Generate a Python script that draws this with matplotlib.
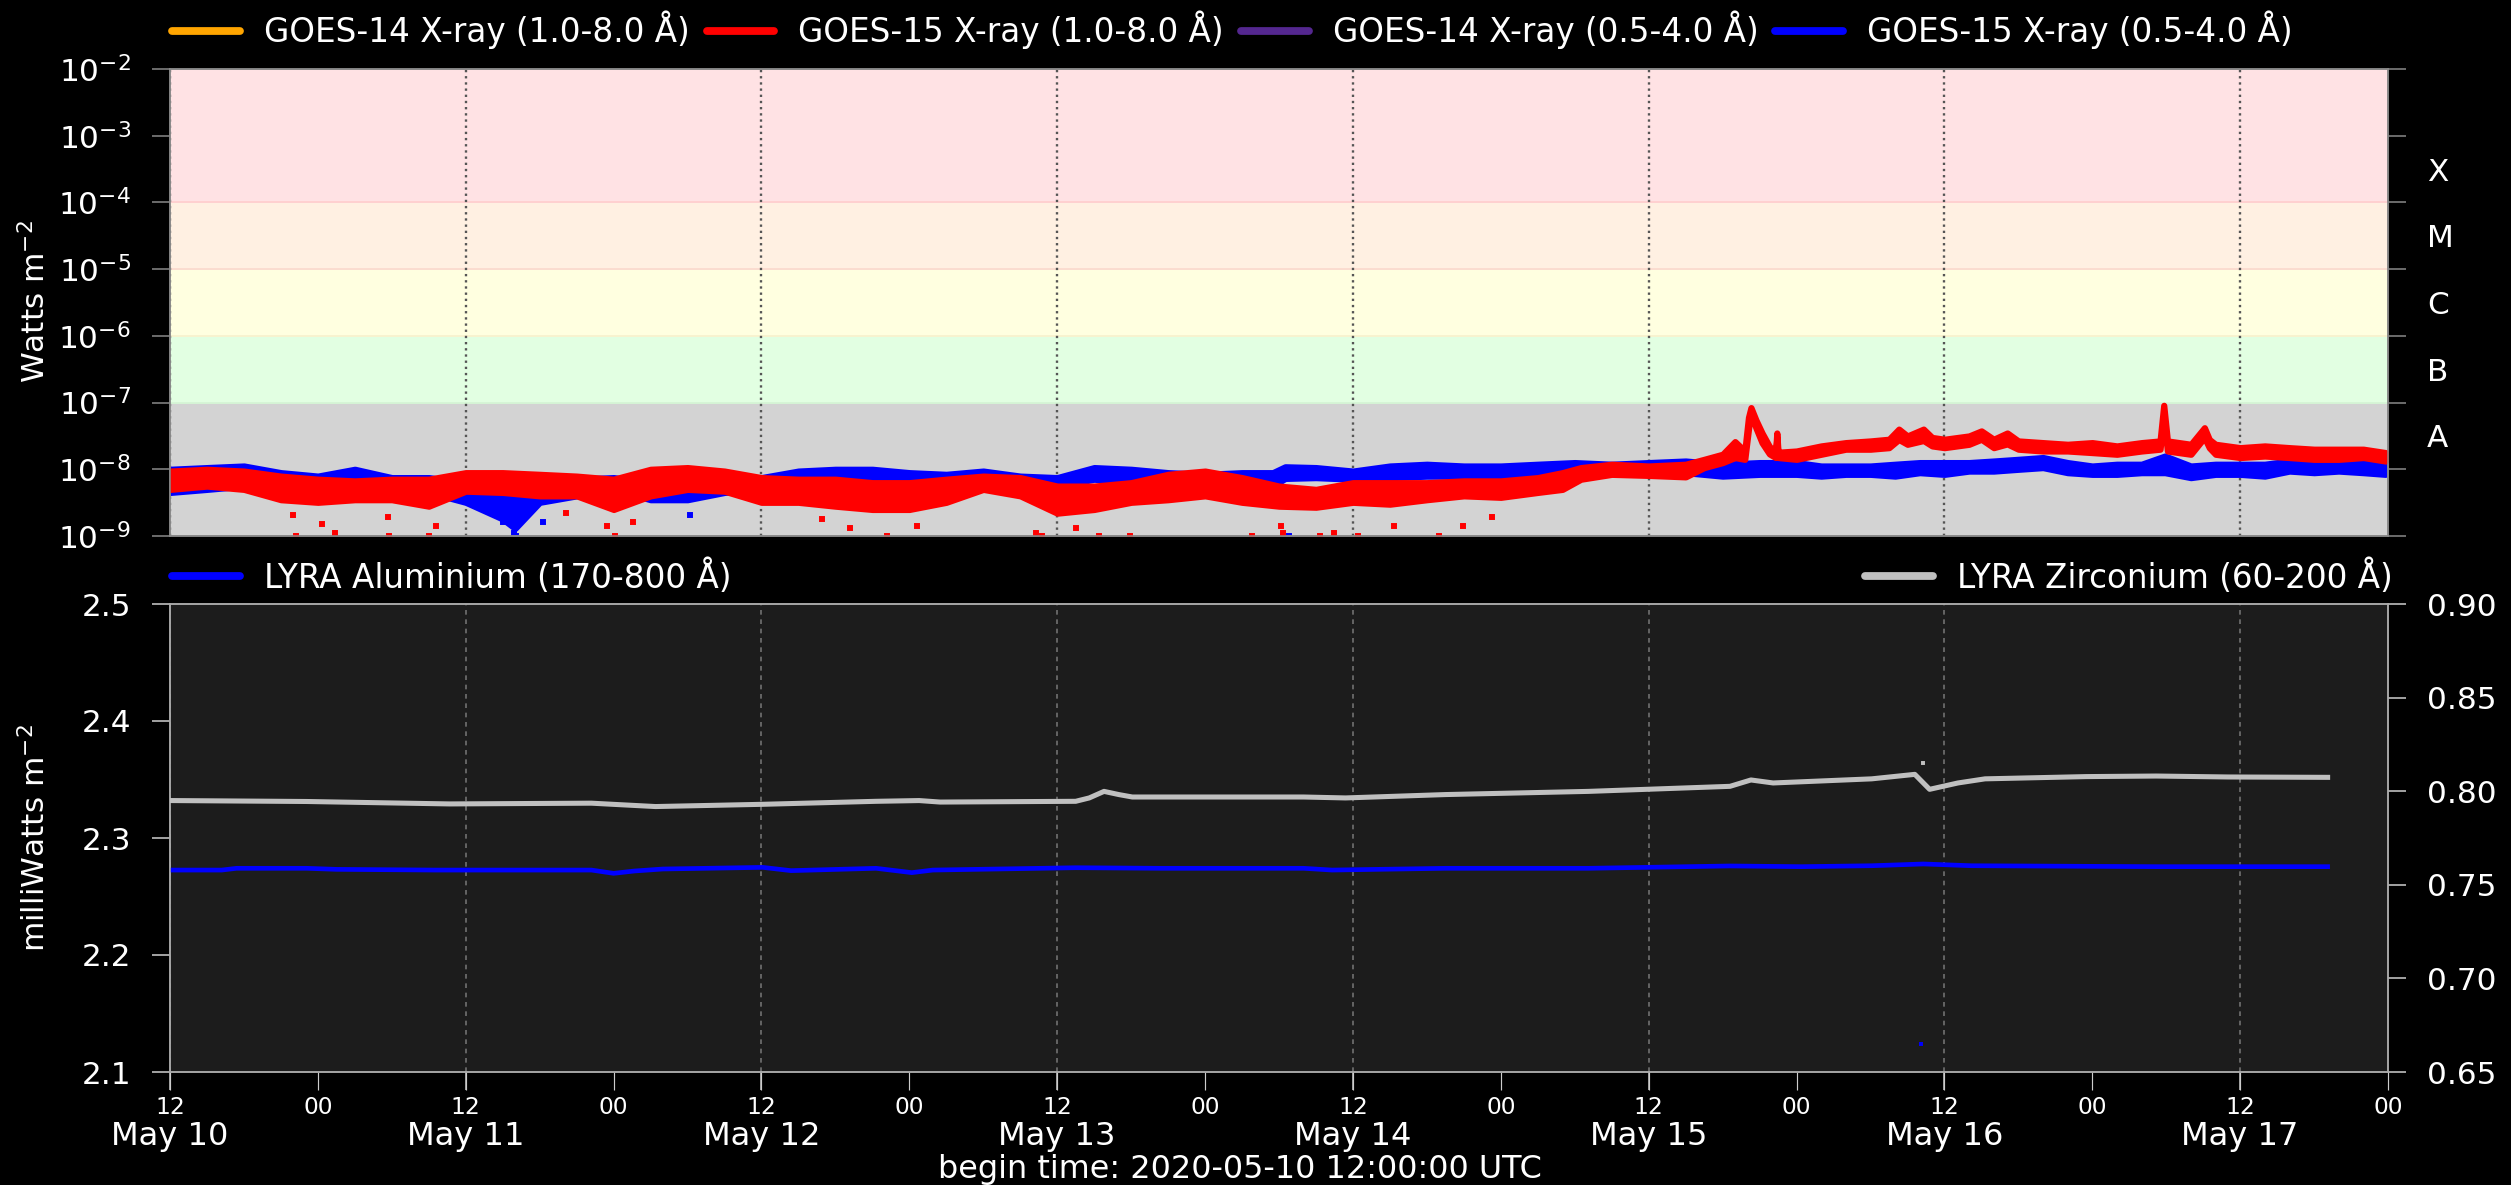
import matplotlib
matplotlib.use("Agg")
import matplotlib.pyplot as plt
import matplotlib.dates as mdates
from matplotlib.lines import Line2D
from matplotlib.ticker import FixedLocator, NullLocator, FixedFormatter, NullFormatter, FormatStrFormatter
import numpy as np
from datetime import datetime, timedelta

plt.rcParams['font.family'] = ['DejaVu Sans']
plt.rcParams['font.size'] = 16

# ── time base: hours after 2020-05-10 12:00 UTC ──
START = datetime(2020, 5, 10, 12)
END = START + timedelta(hours=180)

# ── GOES-15 1.0-8.0 Å (band envelope, units of 1e-9 W m^-2) ──
RED_HOURS = [0, 3, 6, 9, 12, 15, 18, 21, 24, 27, 30, 33, 36, 39, 42, 45, 48, 51, 54, 57,
             60, 63, 66, 69, 72, 75, 78, 81, 84, 87, 90, 93, 96, 99, 102, 105, 108, 111,
             113, 114.5, 117, 120, 123, 124.5, 126, 127.0, 127.8, 128.1, 128.3, 128.7,
             129.2, 129.8, 130.3, 130.4, 130.5, 132, 134, 136, 138, 139.5, 140.3, 141,
             142.3, 143, 144, 146, 147.0, 148, 149.1, 150, 152, 154, 156, 158, 160, 161.5,
             161.8, 162.1, 164, 165.1, 165.5, 166, 168, 170, 172, 174, 176, 178, 179.8]
RED_HIGH = [9.4, 10.0, 9.4, 7.9, 7.1, 6.7, 7.1, 7.1, 8.9, 8.9, 8.4, 7.9, 7.1, 10.0, 10.6,
            9.4, 7.5, 7.1, 7.1, 6.3, 6.3, 7.1, 7.9, 7.5, 5.6, 5.6, 6.3, 8.4, 9.4, 7.5, 5.6,
            5.0, 6.3, 6.3, 6.3, 6.7, 6.7, 7.5, 8.9, 10.6, 11.9, 11.2, 11.9, 14.1, 16.8, 26,
            18.8, 60, 84, 55, 35, 22, 18, 35, 18, 18.8, 22.4, 25.1, 26.6, 28.2, 40, 31.6,
            40, 30, 28.2, 31.6, 37.6, 28.2, 35, 26.6, 25.1, 23.7, 25.1, 22.4, 25.1, 26.6,
            91, 26.6, 23.7, 42, 28, 23.7, 21.1, 22.4, 21.1, 20.0, 20.0, 20.0, 17.8]
RED_LOW = [5.0, 5.6, 5.0, 3.5, 3.2, 3.5, 3.5, 2.8, 4.7, 4.5, 4.0, 4.0, 2.5, 4.0, 5.0,
           4.7, 3.2, 3.2, 2.8, 2.5, 2.5, 3.2, 5.0, 4.0, 2.2, 2.5, 3.2, 3.5, 4.0, 3.2, 2.8,
           2.7, 3.2, 3.0, 3.5, 4.0, 3.8, 4.5, 5.0, 7.1, 8.4, 8.1, 7.7, 10.6, 12.6, 15,
           14.1, 40, 70, 42, 25, 17, 15, 30, 15, 14.1, 16.8, 20.0, 20.0, 21.1, 28, 23.7,
           27, 22.4, 21.1, 23.7, 28.2, 21.1, 24, 20.0, 18.8, 18.8, 17.8, 16.8, 18.8, 20,
           60, 18.8, 16.8, 30, 21, 16.8, 15.0, 15.8, 15.0, 14.1, 14.1, 15.0, 13.3]
RED_OUT_HOURS = [10.0, 10.2, 12.3, 13.4, 17.7, 17.8, 21.0, 21.6, 32.1, 35.5, 36.1, 37.6,
                 52.9, 55.2, 58.2, 60.6, 70.3, 70.8, 73.5, 75.4, 77.9, 87.8, 90.2, 90.3,
                 93.3, 94.5, 96.4, 99.3, 103.0, 104.9, 107.3]
RED_OUT_VALUES = [2.1, 1.0, 1.5, 1.1, 1.9, 1.0, 1.0, 1.4, 2.2, 1.4, 1.0, 1.6,
                  1.8, 1.3, 1.0, 1.4, 1.1, 1.0, 1.3, 1.0, 1.0, 1.0, 1.4, 1.1,
                  1.0, 1.1, 1.0, 1.4, 1.0, 1.4, 1.9]

# ── GOES-15 0.5-4.0 Å (band envelope, units of 1e-9 W m^-2) ──
BLUE_HOURS = [0, 3, 6, 9, 12, 15, 18, 21, 24, 27, 28, 30, 33, 36, 39, 42, 45, 48, 51, 54,
              57, 60, 63, 66, 69, 72, 75, 78, 81, 84, 87, 89.5, 90.5, 93, 96, 99, 102,
              105, 108, 111, 114, 117, 120, 123, 126, 129, 132, 134, 136, 138, 140, 142,
              144, 146, 148, 150, 152, 154, 156, 158, 160, 161.9, 164, 166, 168, 170, 172,
              174, 176, 178, 179.8]
BLUE_HIGH = [10.0, 10.6, 11.2, 8.9, 7.9, 10.0, 7.5, 7.5, 6.3, 5.6, 5.0, 6.3, 7.1, 7.5,
             6.3, 7.1, 7.1, 7.5, 9.4, 10.0, 10.0, 8.9, 8.4, 9.4, 7.9, 7.5, 10.6, 10.0, 8.9,
             8.4, 8.9, 8.9, 10.9, 10.6, 9.4, 11.2, 11.9, 11.2, 11.2, 11.9, 12.6, 11.9, 12.6,
             13.3, 11.9, 12.6, 12.6, 11.2, 11.2, 11.2, 11.9, 12.6, 12.6, 12.6, 13.3, 14.1,
             15.0, 12.6, 11.2, 11.9, 11.9, 15.8, 11.2, 11.9, 11.9, 11.9, 13.3, 12.6, 13.3,
             12.6, 11.9]
BLUE_LOW = [4.5, 5.0, 5.6, 5.0, 5.0, 5.0, 4.5, 4.5, 3.2, 1.8, 1.3, 3.2, 4.0, 5.0,
            3.5, 3.5, 4.5, 5.0, 6.3, 6.3, 6.3, 6.0, 6.0, 6.3, 5.6, 5.6, 7.1, 6.3, 6.3,
            5.6, 5.6, 5.6, 7.3, 7.5, 7.1, 7.5, 7.9, 7.9, 7.9, 8.4, 8.9, 8.9, 8.9,
            8.9, 7.9, 8.4, 8.4, 7.9, 8.4, 8.4, 7.9, 8.9, 8.4, 9.4, 9.4, 10.0,
            10.6, 8.9, 8.4, 8.4, 8.9, 8.9, 7.5, 8.4, 8.4, 7.9, 9.4, 8.9, 9.4,
            8.9, 8.4]
BLUE_OUT_HOURS = [27.0, 27.9, 28.1, 30.3, 42.2, 90.8]
BLUE_OUT_VALUES = [1.6, 1.1, 1.0, 1.6, 2.1, 1.0]

# ── LYRA (bottom panel) ──
AL_HOURS = [0.2, 4.2, 5.4, 11.1, 13.5, 21.5, 34.2, 36.0, 37.7, 40.0, 48.1, 50.4, 57.3,
            60.2, 61.9, 73.5, 80.4, 92.0, 94.3, 103.5, 115.1, 126.6, 132.4, 138.1, 142.3,
            146.2, 161.2, 175.1]
AL_VALUES = [2.2726, 2.2726, 2.2741, 2.2741, 2.2732, 2.2726, 2.2726, 2.2698, 2.2718, 2.2735,
             2.2749, 2.2721, 2.2741, 2.2704, 2.2726, 2.2746, 2.2741, 2.2741, 2.2726, 2.2741,
             2.2741, 2.2761, 2.2755, 2.2763, 2.2778, 2.2763, 2.2755, 2.2755]
AL_OUT_HOURS = [142.1]
AL_OUT_VALUES = [2.124]

ZR_HOURS = [0.2, 11.1, 22.7, 34.2, 36.5, 39.4, 48.1, 57.3, 60.8, 62.5, 73.5, 74.6, 75.8,
            77.0, 78.1, 80.4, 92.0, 95.4, 103.5, 115.1, 126.6, 128.3, 130.1, 138.1, 141.6,
            142.8, 145.1, 147.3, 155.5, 161.2, 167.0, 175.1]
ZR_VALUES = [0.7950, 0.7945, 0.7932, 0.7936, 0.7928, 0.7918, 0.7930, 0.7946, 0.7950,
             0.7942, 0.7946, 0.7964, 0.7999, 0.7982, 0.7969, 0.7969, 0.7969, 0.7964,
             0.7982, 0.7999, 0.8026, 0.8060, 0.8044, 0.8066, 0.8090, 0.8010, 0.8044,
             0.8066, 0.8078, 0.8081, 0.8076, 0.8074]
ZR_OUT_HOURS = [142.3]
ZR_OUT_VALUES = [0.8149]

GOES_LABELS = ['GOES-14 X-ray (1.0-8.0 \u00c5)', 'GOES-15 X-ray (1.0-8.0 \u00c5)',
               'GOES-14 X-ray (0.5-4.0 \u00c5)', 'GOES-15 X-ray (0.5-4.0 \u00c5)']
GOES_COLORS = ['#ffa500', '#ff0000', '#54278f', '#0000ff']
CLASS_LABELS = ['A', 'B', 'C', 'M', 'X']
CLASS_LOGPOS = [-7.5, -6.5, -5.5, -4.5, -3.5]
BANDS = [(1e-9, 1e-7, '#d3d3d3', '#cfcfcf'),
         (1e-7, 1e-6, '#e2ffe2', '#d6f5d6'),
         (1e-6, 1e-5, '#ffffe0', '#f8f3cf'),
         (1e-5, 1e-4, '#fff0e2', '#fbdcd0'),
         (1e-4, 1e-2, '#ffe2e4', '#ffd0d0')]


def to_num(hours):
    return mdates.date2num([START + timedelta(hours=float(h)) for h in hours])


W, H, DPI = 2511, 1185, 140
fig = plt.figure(figsize=(W / DPI, H / DPI), dpi=DPI, facecolor='black')
LEFT, RIGHT = 170 / W, 2388 / W
ax1 = fig.add_axes([LEFT, 1 - 536 / H, RIGHT - LEFT, 467 / H])
ax2 = fig.add_axes([LEFT, 1 - 1072 / H, RIGHT - LEFT, 468 / H], sharex=ax1)

TICK_LEN = 9.3
YPAD = 10.8
LEG_FS = 16.8

# ── top panel: GOES ──
ax1.set_yscale('log')
ax1.set_ylim(1e-9, 1e-2)
ax1.set_xlim(START, END)
for lo, hi, fc, ec in BANDS:
    ax1.axhspan(lo, hi, facecolor=fc, edgecolor=ec, lw=1, zorder=0)

tb = to_num(BLUE_HOURS)
ax1.fill_between(tb, np.array(BLUE_LOW) * 1e-9, np.array(BLUE_HIGH) * 1e-9,
                 facecolor='#0000ff', edgecolor='#0000ff', lw=3.2, joinstyle='round',
                 zorder=2)
ax1.plot(to_num(BLUE_OUT_HOURS), np.array(BLUE_OUT_VALUES) * 1e-9, 's',
         color='#0000ff', ms=2.2, zorder=2)
tr = to_num(RED_HOURS)
ax1.fill_between(tr, np.array(RED_LOW) * 1e-9, np.array(RED_HIGH) * 1e-9,
                 facecolor='#ff0000', edgecolor='#ff0000', lw=3.2, joinstyle='round',
                 zorder=3)
ax1.plot(to_num(RED_OUT_HOURS), np.array(RED_OUT_VALUES) * 1e-9, 's',
         color='#ff0000', ms=2.2, zorder=3)

ax1.yaxis.set_major_locator(FixedLocator(10.0 ** np.arange(-9, -1)))
ax1.yaxis.set_minor_locator(NullLocator())
ax1.tick_params(axis='y', which='major', length=TICK_LEN, color='#888888',
                labelcolor='white', pad=YPAD, labelsize=16)
ax1.tick_params(axis='x', which='both', bottom=False, labelbottom=False)
ax1.grid(True, axis='x', which='major', color='#555555', ls=':', lw=1.2)

ax1r = ax1.twinx()
ax1r.set_yscale('log')
ax1r.set_ylim(1e-9, 1e-2)
ax1r.yaxis.set_major_locator(FixedLocator(10.0 ** np.arange(-9, -1)))
ax1r.yaxis.set_major_formatter(NullFormatter())
ax1r.yaxis.set_minor_locator(FixedLocator(10.0 ** np.array(CLASS_LOGPOS)))
ax1r.yaxis.set_minor_formatter(FixedFormatter(CLASS_LABELS))
ax1r.tick_params(axis='y', which='major', length=TICK_LEN, color='#888888')
ax1r.tick_params(axis='y', which='minor', length=0, pad=TICK_LEN + YPAD,
                 labelcolor='white', labelsize=16)
for a in (ax1, ax1r):
    for s in a.spines.values():
        s.set_color('#888888')

# ── bottom panel: LYRA ──
ax2.set_facecolor('#1c1c1c')
ax2.set_ylim(2.1, 2.5)
ax2.set_yticks([2.1, 2.2, 2.3, 2.4, 2.5])
ax2.yaxis.set_major_formatter(FormatStrFormatter('%.1f'))
ax2.plot(to_num(AL_HOURS), AL_VALUES, color='#0000ff', lw=2.4, zorder=3)
ax2.plot(to_num(AL_OUT_HOURS), AL_OUT_VALUES, 's', color='#0000ff', ms=1.5, zorder=3)

ax2r = ax2.twinx()
ax2r.set_ylim(0.65, 0.90)
ax2r.set_yticks([0.65, 0.70, 0.75, 0.80, 0.85, 0.90])
ax2r.yaxis.set_major_formatter(FormatStrFormatter('%.2f'))
ax2r.plot(to_num(ZR_HOURS), ZR_VALUES, color='#c0c0c0', lw=2.6, zorder=3)
ax2r.plot(to_num(ZR_OUT_HOURS), ZR_OUT_VALUES, 's', color='#c0c0c0', ms=1.5, zorder=3)

ax2.xaxis.set_major_locator(mdates.HourLocator(byhour=12))
ax2.xaxis.set_major_formatter(mdates.DateFormatter('%b %d'))
ax2.xaxis.set_minor_locator(mdates.HourLocator(byhour=[0, 12]))
ax2.xaxis.set_minor_formatter(mdates.DateFormatter('%H'))
ax2.xaxis.remove_overlapping_locs = False
ax2.tick_params(axis='x', which='major', length=TICK_LEN, pad=16, labelsize=16.5,
                color='#cccccc', labelcolor='white')
ax2.tick_params(axis='x', which='minor', length=TICK_LEN, pad=3, labelsize=12,
                color='#cccccc', labelcolor='white')
ax2.tick_params(axis='y', length=TICK_LEN, pad=YPAD, labelsize=16,
                color='#cccccc', labelcolor='white')
ax2r.tick_params(axis='y', length=TICK_LEN, pad=YPAD, labelsize=16,
                 color='#cccccc', labelcolor='white')
ax2.grid(True, axis='x', which='major', color='#777777', ls=(0, (3, 3)), lw=0.8)
ax2.set_xlim(START, END)
for a in (ax2, ax2r):
    for s in a.spines.values():
        s.set_color('#aaaaaa')

# ── legends ──
leg_kw = dict(frameon=False, handlelength=2.08, handletextpad=0.73, borderpad=0,
              borderaxespad=0, labelcolor='white', fontsize=LEG_FS)
top_handles = [Line2D([], [], color=c, lw=4, solid_capstyle='round') for c in GOES_COLORS]
fig.legend(top_handles, GOES_LABELS, loc='center left', bbox_to_anchor=(172 / W, 1 - 30 / H),
           ncol=4, columnspacing=0.52, **leg_kw)
fig.legend([Line2D([], [], color='#0000ff', lw=4, solid_capstyle='round')],
           ['LYRA Aluminium (170-800 \u00c5)'], loc='center left',
           bbox_to_anchor=(172 / W, 1 - 577 / H), **leg_kw)
fig.legend([Line2D([], [], color='#c0c0c0', lw=4, solid_capstyle='round')],
           ['LYRA Zirconium (60-200 \u00c5)'], loc='center right',
           bbox_to_anchor=(2393 / W, 1 - 577 / H), **leg_kw)

# ── axis labels ──
fig.text(35 / W, 1 - 302 / H, 'Watts m$^{-2}$', rotation=90, ha='center', va='center',
         color='white', fontsize=16)
fig.text(35 / W, 1 - 838 / H, 'milliWatts m$^{-2}$', rotation=90, ha='center', va='center',
         color='white', fontsize=16)
fig.text(1240 / W, 1 - 1178 / H, 'begin time: 2020-05-10 12:00:00 UTC', ha='center',
         va='baseline', color='white', fontsize=16.4)

fig.savefig('out.png', dpi=DPI, facecolor='black')
